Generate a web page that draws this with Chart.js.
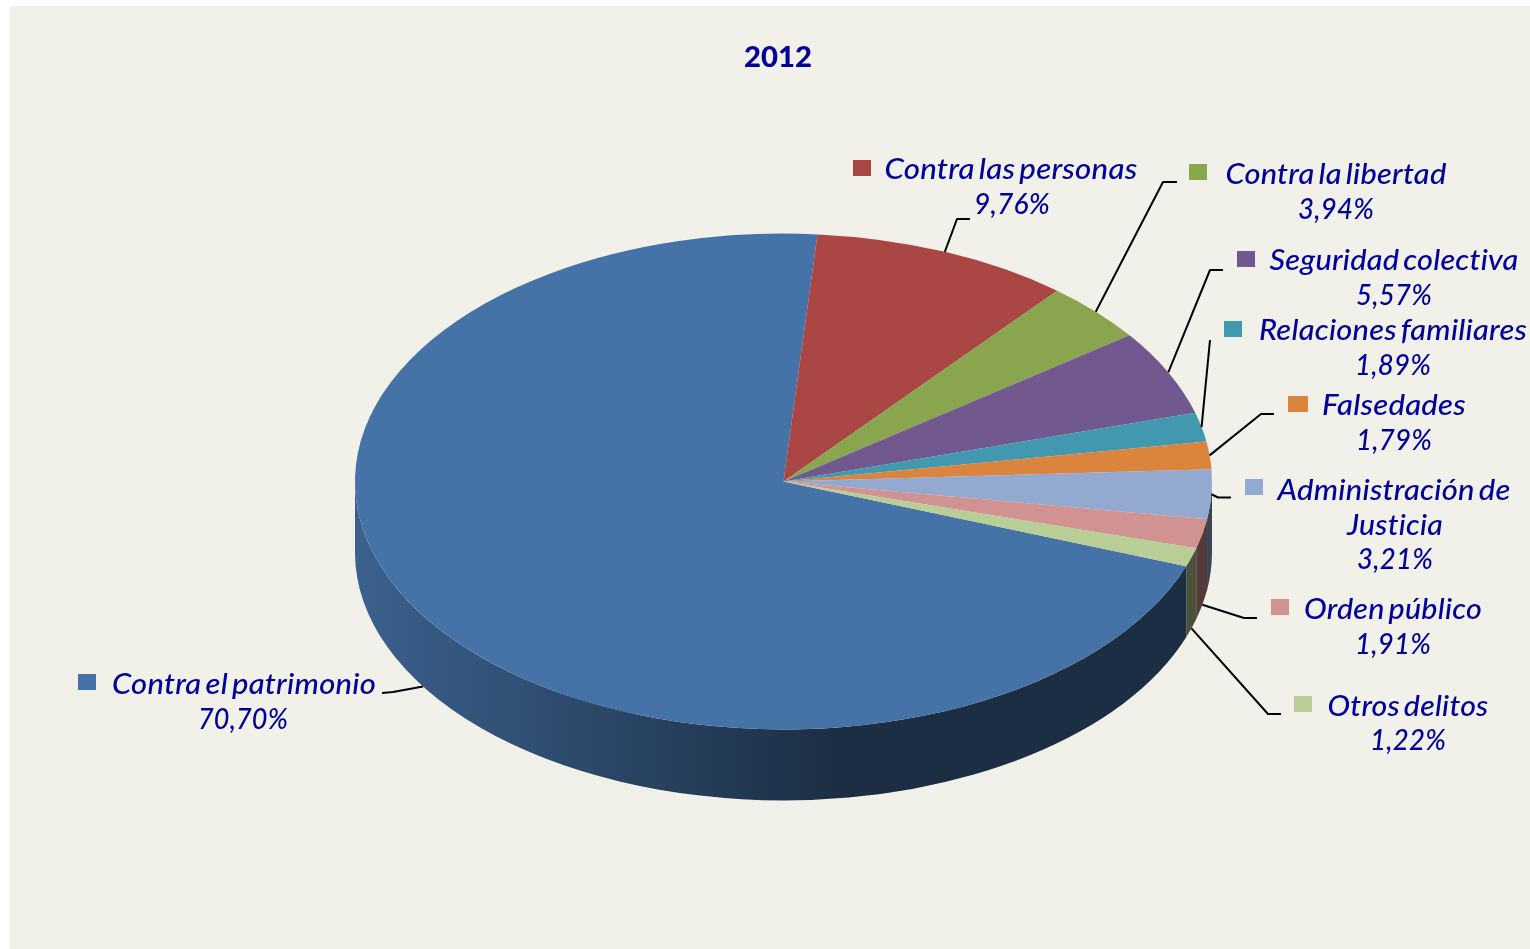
<!DOCTYPE html>
<html><head><meta charset="utf-8">
<style>html,body{margin:0;padding:0;background:#fff;overflow:hidden}canvas{display:block}</style>
<script src="https://cdn.jsdelivr.net/npm/chart.js@4/dist/chart.umd.min.js"></script>
</head><body>
<canvas id="c" width="1530" height="949"></canvas>
<script>
const chartTitle = '2012';
const categories = ['Contra el patrimonio','Contra las personas','Contra la libertad','Seguridad colectiva','Relaciones familiares','Falsedades','Administración de Justicia','Orden público','Otros delitos'];
const values = [70.70,9.76,3.94,5.57,1.89,1.79,3.21,1.91,1.22];
const valueLabels = ['70,70%','9,76%','3,94%','5,57%','1,89%','1,79%','3,21%','1,91%','1,22%'];
const colors = ['#4572A7','#AA4643','#89A54E','#71588F','#4198AF','#DB843D','#93A9CF','#D19392','#B9CD96'];

const SQUASH = 0.5785, DEPTH = 71, TEXT = '#00009B';
const FONT = 'Lato, Carlito, sans-serif';

// Label layout: swatch position, text lines [centre x, centre y, width], leader path after its slice anchor
const layout = [
 {sw:[78,674,18,16], text:[[244,685,264],[243,720,90]], wall:true, path:[[393,692],[382,693]]},
 {sw:[853,160,18,16], text:[[1011,170,253],[1012,205,76]], path:[[957,219],[970,219]]},
 {sw:[1189,164,18,16], text:[[1336,175,221],[1336,210,76]], path:[[1163,182],[1177,182]]},
 {sw:[1237,251,18,16], text:[[1394,261,249],[1394,296,76]], path:[[1210,270],[1223,270]]},
 {sw:[1224,321,18,16], text:[[1393,331,268],[1393,366,76]], path:[[1210,340]]},
 {sw:[1288,396,20,16], text:[[1394,406,144],[1394,441,76]], path:[[1261,414],[1274,414]]},
 {sw:[1245,479,18,16], text:[[1394,491,233],[1395,526,96],[1395,560,76]], path:[[1218,497.5],[1231,497.5]], lines:['Administración de','Justicia']},
 {sw:[1271,599,18,16], text:[[1393,610,178],[1393,645,76]], wall:true, path:[[1244,618],[1257,618]]},
 {sw:[1294,696,18,16], text:[[1408,707,161],[1408,741,76]], wall:true, path:[[1268,714],[1281,714]]}
];

function shade(hex,f){
  const n=parseInt(hex.slice(1),16);
  return `rgb(${Math.round((n>>16)*f)},${Math.round(((n>>8)&255)*f)},${Math.round((n&255)*f)})`;
}
function fitText(ctx,str,cx,cy,w){
  const m=ctx.measureText(str).width;
  ctx.save();ctx.translate(cx,cy);ctx.scale(w/m,1);
  ctx.fillText(str,0,0);ctx.restore();
}

const pie3d = {
  id:'pie3d',
  beforeDraw(chart){
    const c=chart.ctx;
    c.save();c.fillStyle='#F2F1E9';c.fillRect(10,6,chart.width-10,chart.height-6);c.restore();
  },
  beforeDatasetsDraw(chart){
    const c=chart.ctx, arcs=chart.getDatasetMeta(0).data;
    const {x:cx,y:cy,outerRadius:R}=arcs[0];
    const ry=R*SQUASH;
    arcs.forEach((a,i)=>{
      [0,2*Math.PI].forEach(off=>{
        const a0=Math.max(a.startAngle,off), a1=Math.min(a.endAngle,off+Math.PI);
        if(a1<=a0) return;
        const g=c.createLinearGradient(cx-R,0,cx+R,0);
        g.addColorStop(0,shade(colors[i],0.85));
        g.addColorStop(0.566,shade(colors[i],0.4));
        g.addColorStop(1,shade(colors[i],0.4));
        c.beginPath();
        c.ellipse(cx,cy,R,ry,0,a0,a1);
        c.ellipse(cx,cy+DEPTH,R,ry,0,a1,a0,true);
        c.closePath();
        c.fillStyle=g;c.fill();
      });
    });
    c.save();
    c.translate(cx,cy);c.scale(1,SQUASH);c.translate(-cx,-cy);
  },
  afterDatasetsDraw(chart){
    const c=chart.ctx, arcs=chart.getDatasetMeta(0).data;
    c.restore();
    const {x:cx,y:cy,outerRadius:R}=arcs[0];
    const ry=R*SQUASH;
    // leaders
    c.save();
    c.strokeStyle='#000';c.lineWidth=2;c.lineJoin='round';
    arcs.forEach((a,i)=>{
      const mid=(a.startAngle+a.endAngle)/2, L=layout[i];
      c.beginPath();
      c.moveTo(cx+R*Math.cos(mid),cy+ry*Math.sin(mid)+(L.wall?DEPTH:0));
      L.path.forEach(p=>c.lineTo(p[0],p[1]));
      c.stroke();
    });
    c.restore();
    // swatches and texts
    c.save();
    c.textAlign='center';c.textBaseline='middle';
    layout.forEach((L,i)=>{
      c.fillStyle=colors[i];
      c.fillRect(L.sw[0],L.sw[1],L.sw[2],L.sw[3]);
      c.fillStyle=TEXT;
      c.font='italic 500 28px '+FONT;
      c.wordSpacing='-3px';
      c.letterSpacing='0.2px';
      const strs=(L.lines||[categories[i]]).concat([valueLabels[i]]);
      strs.forEach((s,k)=>{const t=L.text[k];fitText(c,s,t[0],t[1],t[2]);});
    });
    c.wordSpacing='0px';
    c.letterSpacing='0px';
    c.font='900 29px '+FONT;
    c.fillStyle=TEXT;
    fitText(c,chartTitle,778,58,68);
    c.restore();
  }
};

new Chart(document.getElementById('c'),{
  type:'pie',
  data:{labels:categories,datasets:[{data:values,backgroundColor:colors,borderWidth:0,clip:false}]},
  options:{
    responsive:false,animation:false,devicePixelRatio:1,
    rotation:110,
    layout:{padding:{left:37,right:0,top:53,bottom:39}},
    plugins:{legend:{display:false},title:{display:false},tooltip:{enabled:false}}
  },
  plugins:[pie3d]
});
</script>
</body></html>
